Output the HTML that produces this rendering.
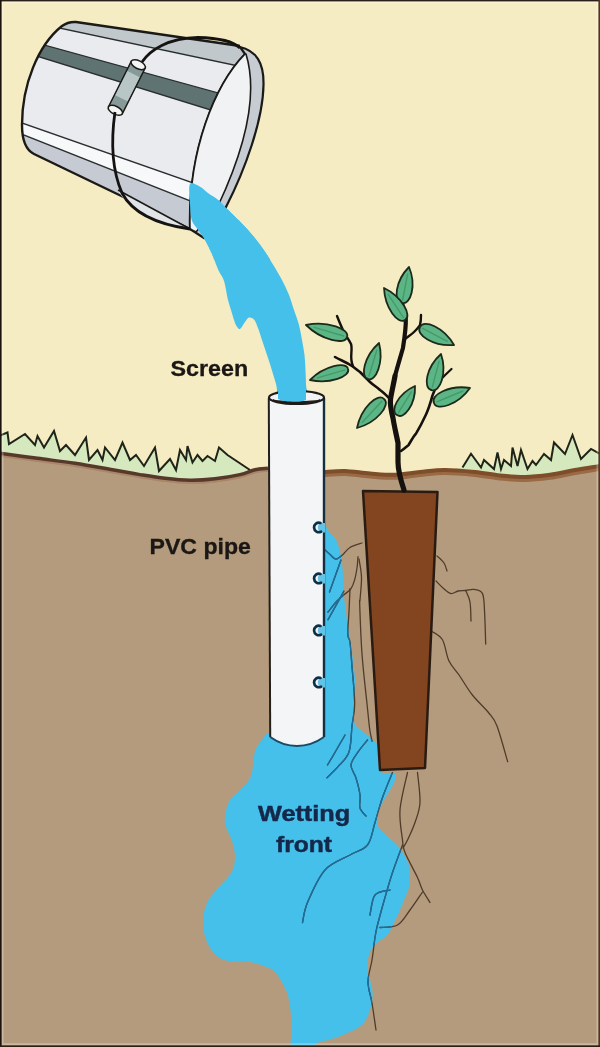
<!DOCTYPE html>
<html><head><meta charset="utf-8">
<style>
html,body{margin:0;padding:0;background:#2A1F18;}
body{width:600px;height:1047px;overflow:hidden;}
svg{display:block;filter:blur(0.45px);}
text{font-family:"Liberation Sans",sans-serif;font-weight:bold;}
</style></head>
<body>
<svg width="600" height="1047" viewBox="0 0 600 1047">
<defs>
<clipPath id="bodyclip"><path d="M76,22 L240,46 L256,60 L202,238 L190,229 L34,154 C26,150 22,140 22,125 C22,85 38,45 62,26 Q68,21.5 76,22 Z"/></clipPath>
<clipPath id="blobclip"><path id="blobp" d="M269.0,733.0 C265.8,733.2 261.4,740.7 259.0,744.0 C256.6,747.3 255.9,747.7 254.6,753.0 C253.3,758.3 253.3,769.9 251.0,776.0 C248.7,782.1 244.4,785.4 240.8,789.6 C237.2,793.8 232.1,795.6 229.4,801.0 C226.7,806.4 224.4,815.2 224.8,821.7 C225.2,828.2 230.0,834.3 231.7,840.0 C233.4,845.7 235.0,850.7 235.0,856.0 C235.0,861.3 234.5,866.7 231.7,872.0 C228.9,877.3 221.8,883.4 218.0,888.0 C214.2,892.6 211.1,895.4 208.8,899.6 C206.5,903.8 204.8,907.6 204.0,913.0 C203.2,918.4 203.2,926.3 204.0,931.7 C204.8,937.1 206.5,941.3 208.8,945.5 C211.1,949.7 214.2,954.3 218.0,957.0 C221.8,959.7 226.8,960.8 231.7,961.5 C236.6,962.2 242.3,960.8 247.7,961.5 C253.0,962.2 259.2,964.2 263.8,966.0 C268.4,967.8 271.5,968.3 275.0,972.0 C278.5,975.7 282.7,983.3 285.0,988.0 C287.3,992.7 288.0,995.5 289.0,1000.0 C290.0,1004.5 290.5,1010.0 291.0,1015.0 C291.5,1020.0 291.8,1024.7 292.0,1030.0 C292.2,1035.3 288.7,1044.2 292.0,1047.0 C295.3,1049.8 307.8,1047.7 312.0,1047.0 C316.2,1046.3 313.2,1044.5 317.0,1043.0 C320.8,1041.5 329.2,1040.0 335.0,1038.0 C340.8,1036.0 347.0,1033.3 351.7,1031.0 C356.4,1028.7 359.9,1027.5 363.0,1024.0 C366.1,1020.5 368.4,1015.0 370.0,1010.0 C371.6,1005.0 372.7,999.0 372.7,994.0 C372.7,989.0 370.9,984.3 370.0,980.0 C369.1,975.7 367.0,972.7 367.0,968.0 C367.0,963.3 368.2,956.3 370.0,952.0 C371.8,947.7 375.2,944.7 378.0,942.0 C380.8,939.3 384.4,938.5 386.7,936.0 C389.0,933.5 390.0,930.8 392.0,927.0 C394.0,923.2 396.7,917.5 398.7,913.0 C400.7,908.5 402.3,904.3 404.0,900.0 C405.7,895.7 408.0,891.7 409.0,887.0 C410.0,882.3 410.2,876.2 410.0,872.0 C409.8,867.8 408.7,865.2 407.5,862.0 C406.3,858.8 404.8,855.8 403.0,853.0 C401.2,850.2 399.5,847.7 397.0,845.0 C394.5,842.3 391.0,839.8 388.0,837.0 C385.0,834.2 380.8,830.8 379.0,828.0 C377.2,825.2 377.0,823.0 377.0,820.0 C377.0,817.0 377.8,813.3 379.0,810.0 C380.2,806.7 382.2,803.3 384.0,800.0 C385.8,796.7 388.2,793.3 390.0,790.0 C391.8,786.7 394.3,782.8 395.0,780.0 C395.7,777.2 396.5,774.5 394.0,773.0 C391.5,771.5 382.7,775.3 380.0,771.0 C377.3,766.7 379.2,752.2 378.0,747.0 C376.8,741.8 374.9,742.3 372.7,740.0 C370.5,737.7 367.4,735.2 364.7,733.0 C362.0,730.8 358.5,728.9 356.7,726.7 C354.9,724.5 354.4,724.5 354.0,720.0 C353.6,715.5 353.8,706.7 354.0,700.0 C354.2,693.3 355.2,687.1 355.0,680.0 C354.8,672.9 353.9,667.1 352.7,657.6 C351.4,648.1 348.9,633.1 347.5,623.0 C346.1,612.9 344.9,607.0 344.0,597.0 C343.1,587.0 343.2,572.2 342.0,563.0 C340.8,553.8 339.0,547.0 337.0,542.0 C335.0,537.0 332.3,535.8 330.0,533.0 C327.7,530.2 324.7,523.0 323.0,525.0 C321.3,527.0 320.5,524.2 320.0,545.0 C319.5,565.8 320.0,619.2 320.0,650.0 C320.0,680.8 323.3,713.5 320.0,730.0 C316.7,746.5 307.0,746.8 300.0,749.0 C293.0,751.2 283.2,745.7 278.0,743.0 C272.8,740.3 272.2,732.8 269.0,733.0Z"/></clipPath>
</defs>
<!-- sky -->
<rect x="0" y="0" width="600" height="1047" fill="#F6ECC3"/>
<!-- grass fills -->
<path d="M0,436 L1,435 L7.5,432.5 L9,444 L25,434 L35,445 L37.5,436 L44,447.5 L54,431 L60,451 L66,445 L75,455 L86,437.5 L89,460 L97.5,450 L102.5,460 L105,447.5 L115,460 L122.5,442.5 L130,460 L136,455 L144,466 L155,447.5 L159,471 L170,459 L176,470 L180,450 L186,460 L187.5,446 L192.5,462.5 L197.5,455 L202.5,461 L207.5,456 L215,461 L219,447.5 L227.5,455 L250,470 L260,475 L260,500 L0,500 Z" fill="#D6E8BD"/>
<path d="M462.5,467.5 L471,453.75 L481,467.5 L484,460 L494,469 L497.5,452.5 L501,469 L504,460 L511,466 L512.5,447.5 L517.5,466 L521,450 L527.5,469 L532.5,461 L536,465 L544,454 L551,460 L554,442.5 L565,454 L572.5,435 L581,459 L591,449 L600,454 L600,500 L455,500 L455,470 Z" fill="#D6E8BD"/>
<!-- soil -->
<path d="M0.0,452.5 C6.2,453.3 25.0,455.8 37.5,457.5 C50.0,459.2 62.5,460.6 75.0,462.5 C87.5,464.4 101.7,467.1 112.5,469.0 C123.3,470.9 131.2,472.3 140.0,473.8 C148.8,475.2 156.7,476.5 165.0,477.5 C173.3,478.5 181.7,479.4 190.0,479.5 C198.3,479.6 206.7,479.0 215.0,478.0 C223.3,477.0 233.3,475.2 240.0,473.8 C246.7,472.2 250.3,470.0 255.0,469.0 C259.7,468.0 256.3,467.2 268.0,467.5 C279.7,467.8 312.2,470.6 325.0,471.0 C337.8,471.4 337.5,469.8 345.0,470.0 C352.5,470.2 361.7,471.9 370.0,472.5 C378.3,473.1 386.7,474.0 395.0,473.8 C403.3,473.5 411.7,471.8 420.0,471.0 C428.3,470.2 435.8,469.0 445.0,469.0 C454.2,469.0 465.8,470.1 475.0,471.0 C484.2,471.9 491.7,473.7 500.0,474.5 C508.3,475.3 516.7,476.1 525.0,476.0 C533.3,475.9 541.7,474.9 550.0,473.8 C558.3,472.6 566.7,470.5 575.0,469.0 C583.3,467.5 595.8,465.7 600.0,465.0 L600,1047 L0,1047 Z" fill="#B49B7D"/>
<!-- grass lines -->
<path d="M0,436 L1,435 L7.5,432.5 L9,444 L25,434 L35,445 L37.5,436 L44,447.5 L54,431 L60,451 L66,445 L75,455 L86,437.5 L89,460 L97.5,450 L102.5,460 L105,447.5 L115,460 L122.5,442.5 L130,460 L136,455 L144,466 L155,447.5 L159,471 L170,459 L176,470 L180,450 L186,460 L187.5,446 L192.5,462.5 L197.5,455 L202.5,461 L207.5,456 L215,461 L219,447.5 L227.5,455 L250,470" fill="none" stroke="#1F2419" stroke-width="2"/>
<path d="M462.5,467.5 L471,453.75 L481,467.5 L484,460 L494,469 L497.5,452.5 L501,469 L504,460 L511,466 L512.5,447.5 L517.5,466 L521,450 L527.5,469 L532.5,461 L536,465 L544,454 L551,460 L554,442.5 L565,454 L572.5,435 L581,459 L591,449 L600,454" fill="none" stroke="#1F2419" stroke-width="2"/>
<!-- ground line -->
<path d="M0.0,455.0 C6.2,455.8 25.0,458.3 37.5,460.0 C50.0,461.7 62.5,463.1 75.0,465.0 C87.5,466.9 101.7,469.6 112.5,471.5 C123.3,473.4 131.2,474.8 140.0,476.2 C148.8,477.7 156.7,479.0 165.0,480.0 C173.3,481.0 181.7,481.9 190.0,482.0 C198.3,482.1 206.7,481.5 215.0,480.5 C223.3,479.5 233.3,477.8 240.0,476.2 C246.7,474.8 250.3,472.5 255.0,471.5 C259.7,470.5 265.8,470.2 268.0,470.0" fill="none" stroke="#A07858" stroke-width="4" opacity="0.6"/>
<path d="M325.0,474.0 C328.3,473.8 337.5,472.8 345.0,473.0 C352.5,473.2 361.7,474.9 370.0,475.5 C378.3,476.1 386.7,477.0 395.0,476.8 C403.3,476.5 411.7,474.8 420.0,474.0 C428.3,473.2 435.8,472.0 445.0,472.0 C454.2,472.0 465.8,473.1 475.0,474.0 C484.2,474.9 491.7,476.7 500.0,477.5 C508.3,478.3 516.7,479.1 525.0,479.0 C533.3,478.9 541.7,477.9 550.0,476.8 C558.3,475.6 566.7,473.5 575.0,472.0 C583.3,470.5 595.8,468.7 600.0,468.0" fill="none" stroke="#9A6A45" stroke-width="6"/>
<path d="M0.0,453.3 C6.2,454.1 25.0,456.6 37.5,458.3 C50.0,460.0 62.5,461.4 75.0,463.3 C87.5,465.2 101.7,467.9 112.5,469.8 C123.3,471.7 131.2,473.1 140.0,474.6 C148.8,476.0 156.7,477.3 165.0,478.3 C173.3,479.3 181.7,480.2 190.0,480.3 C198.3,480.4 206.7,479.8 215.0,478.8 C223.3,477.8 233.3,476.1 240.0,474.6 C246.7,473.1 250.3,470.8 255.0,469.8 C259.7,468.8 265.8,468.6 268.0,468.3" fill="none" stroke="#56392A" stroke-width="3.5"/>
<path d="M325.0,472.0 C328.3,471.8 337.5,470.8 345.0,471.0 C352.5,471.2 361.7,472.9 370.0,473.5 C378.3,474.1 386.7,475.0 395.0,474.8 C403.3,474.5 411.7,472.8 420.0,472.0 C428.3,471.2 435.8,470.0 445.0,470.0 C454.2,470.0 465.8,471.1 475.0,472.0 C484.2,472.9 491.7,474.7 500.0,475.5 C508.3,476.3 516.7,477.1 525.0,477.0 C533.3,476.9 541.7,475.9 550.0,474.8 C558.3,473.6 566.7,471.5 575.0,470.0 C583.3,468.5 595.8,466.7 600.0,466.0" fill="none" stroke="#7E4D2A" stroke-width="4"/>

<!-- water blob -->
<use href="#blobp" fill="#45C0EB"/>
<ellipse cx="297" cy="742" rx="30" ry="10" fill="#45C0EB"/>
<!-- roots in soil -->
<g fill="none" stroke="#4E3C2B" stroke-width="1.3" stroke-linecap="round" stroke-linejoin="round">
<g id="rootsg"><path d="M437.0,556.0 C438.2,557.2 442.3,560.5 444.0,563.0 C445.7,565.5 446.5,569.7 447.0,571.0"/>
<path d="M436.0,581.0 C437.2,582.2 440.5,585.9 443.0,588.0 C445.5,590.1 448.5,593.1 451.0,593.6 C453.5,594.1 455.6,591.5 458.0,591.0 C460.4,590.5 463.0,590.8 465.7,590.5 C468.4,590.2 471.2,588.9 474.0,589.4 C476.8,589.9 480.7,589.8 482.5,593.6 C484.3,597.5 484.1,604.1 484.6,612.5 C485.1,620.9 485.5,638.8 485.7,644.0"/>
<path d="M465.7,590.5 C466.4,592.4 469.1,596.9 470.0,602.0 C470.9,607.1 470.8,617.8 471.0,621.0"/>
<path d="M432.0,631.4 C433.8,632.8 439.8,635.1 442.6,640.0 C445.4,644.9 446.2,655.1 449.0,661.0 C451.8,666.9 455.6,669.9 459.4,675.5 C463.2,681.1 467.1,688.2 472.0,694.5 C476.9,700.8 484.6,707.8 488.8,713.0 C493.0,718.2 493.9,717.9 497.0,726.0 C500.1,734.1 505.9,755.8 507.7,761.7"/>
<path d="M362.0,543.0 C360.0,543.8 353.2,545.6 350.0,547.5 C346.8,549.4 345.3,552.5 343.0,554.4 C340.7,556.3 338.2,559.1 336.0,559.0 C333.8,558.9 331.7,555.8 329.5,554.0 C327.3,552.2 324.1,549.0 323.0,548.0"/>
<path d="M358.0,556.7 C357.8,558.6 357.6,564.2 357.0,568.0 C356.4,571.8 355.7,576.1 354.7,579.6 C353.7,583.1 352.7,586.2 351.0,588.7 C349.3,591.2 346.6,592.5 344.3,594.5 C342.0,596.5 339.7,598.1 337.0,601.0 C334.3,603.9 329.5,610.2 328.0,612.0"/>
<path d="M350.0,588.7 C349.8,592.5 349.4,604.0 349.0,611.6 C348.6,619.2 347.6,629.4 347.8,634.5 C348.0,639.6 349.3,636.7 350.0,642.0 C350.7,647.3 351.2,656.2 352.0,666.5 C352.8,676.8 354.7,693.8 354.7,703.7 C354.7,713.6 352.9,718.0 352.0,726.0 C351.1,734.0 351.3,745.2 349.0,752.0 C346.7,758.8 341.7,762.4 338.0,766.7 C334.3,771.0 328.8,775.9 327.0,777.7"/>
<path d="M359.0,559.0 C359.4,562.0 361.3,570.2 361.5,577.0 C361.7,583.8 360.3,595.4 360.0,600.0 C359.7,604.6 359.4,595.4 359.7,604.4 C360.0,613.4 360.8,637.5 362.0,654.0 C363.2,670.5 365.7,691.3 367.0,703.7 C368.3,716.1 368.8,722.3 369.6,728.5 C370.4,734.7 371.6,738.9 372.0,741.0"/>
<path d="M341.0,560.0 C339.1,565.3 331.4,586.7 329.5,592.0"/>
<path d="M344.0,591.0 C341.3,595.8 330.7,614.9 328.0,619.7"/>
<path d="M367.5,740.0 C365.9,742.0 360.8,747.8 358.0,752.0 C355.2,756.2 351.3,760.7 351.0,765.0 C350.7,769.3 354.5,773.0 356.0,778.0 C357.5,783.0 359.3,790.0 360.0,795.0 C360.7,800.0 359.0,804.5 360.0,808.0 C361.0,811.5 365.0,814.7 366.0,816.0"/>
<path d="M392.5,772.5 C390.8,776.7 385.4,789.2 382.5,797.5 C379.6,805.8 377.5,814.6 375.0,822.5 C372.5,830.4 371.7,839.6 367.5,845.0 C363.3,850.4 357.1,850.8 350.0,855.0 C342.9,859.2 332.1,862.1 325.0,870.0 C317.9,877.9 311.2,893.8 307.5,902.5 C303.8,911.2 303.3,919.2 302.5,922.5"/>
<path d="M402.5,845.0 C400.8,849.6 395.4,863.8 392.5,872.5 C389.6,881.2 387.5,888.8 385.0,897.5 C382.5,906.2 379.2,918.3 377.5,925.0 C375.8,931.7 375.9,931.7 375.0,937.5 C374.1,943.3 373.2,952.6 372.0,960.0 C370.8,967.4 368.0,974.8 368.0,982.0 C368.0,989.2 370.7,995.0 372.0,1003.0 C373.3,1011.0 375.3,1025.5 376.0,1030.0"/>
<path d="M390.0,890.0 C387.5,890.8 378.3,890.8 375.0,895.0 C371.7,899.2 370.8,911.7 370.0,915.0"/>
<path d="M345.0,735.0 C343.8,737.2 340.4,743.0 337.5,748.0 C334.6,753.0 329.2,762.2 327.5,765.0"/>
<path d="M407.5,772.5 C406.2,778.8 400.8,798.8 400.0,810.0 C399.2,821.2 401.7,832.9 402.5,840.0 C403.3,847.1 402.5,846.2 405.0,852.5 C407.5,858.8 414.6,871.2 417.5,877.5 C420.4,883.8 420.4,885.8 422.5,890.0 C424.6,894.2 428.8,900.4 430.0,902.5"/>
<path d="M417.5,772.5 C417.9,777.5 420.4,794.2 420.0,802.5 C419.6,810.8 417.1,816.2 415.0,822.5 C412.9,828.8 409.5,835.8 407.5,840.0 C405.5,844.2 403.8,846.7 403.0,848.0"/>
<path d="M422.5,892.0 C420.4,895.0 414.2,904.5 410.0,910.0 C405.8,915.5 402.5,922.1 397.5,925.0 C392.5,927.9 382.9,927.1 380.0,927.5"/></g>
</g>
<g clip-path="url(#blobclip)" fill="none" stroke="#1C6E9E" stroke-width="1.4" stroke-linecap="round" stroke-linejoin="round">
<use href="#rootsg"/>
</g>

<!-- pot -->
<path d="M363,491 L437.5,492 L425,768 L380,770 Z" fill="#82451F" stroke="#2A1B12" stroke-width="2.5" stroke-linejoin="round"/>

<!-- plant stems -->
<g fill="none" stroke="#15110E" stroke-linecap="round" stroke-linejoin="round">
<path d="M404,490 C401,481 398,470 398,462 C398,455 398,450 398,443 C396,433 394,425 393,418 C391,410 390,404 390.5,399 C392,390 394,382 395,376" stroke-width="5.2"/>
<path d="M395,376 C398,365 401,355 403,347.7 C405,335 406,325 405.8,319 C405,312 403,308 402,303" stroke-width="4.2"/>
<path d="M389,398 C386,395 383,392 380,390 C377,387 373,385 370,382 C366,378 363,375 360,372 C357,370 355,368 352,366 C346,362 340,360 335,357" stroke-width="2.6"/>
<path d="M353,366 C349,358 353,350 351,344 C349,340 346,336 343,330 C341,326 339,321 337,316" stroke-width="2.4"/>
<path d="M401,451 C404,449 406,447 408.6,445 C411,441 413,437 416,433.6 C420,427 423,421 426,414.5 C429,408 431,401 432.5,395.4 C434,392 435,389 436,386" stroke-width="2.6"/>
<path d="M431.5,390 C437,383 445,375 451.5,369" stroke-width="2.2"/>
<path d="M404,340 C407,337 411,335 414,332 C417,329 419,327 420,325 C421,321 421,318 421,315" stroke-width="2.4"/>
</g>
<!-- leaves -->
<g fill="#5CB584" stroke="#1C2A1C" stroke-width="1.8" stroke-linejoin="round">
<path d="M402.0,303.0 C410.6,305.4 416.7,285.3 409.0,267.0 C395.0,281.1 393.1,302.0 402.0,303.0Z"/>
<path d="M405.0,320.0 C412.4,316.0 402.1,296.7 384.0,288.0 C384.8,308.1 398.4,325.2 405.0,320.0Z"/>
<path d="M420.0,327.0 C415.1,334.5 433.5,346.7 454.0,345.0 C443.9,327.1 423.5,318.8 420.0,327.0Z"/>
<path d="M347.0,337.0 C350.2,329.2 327.4,320.4 306.0,325.0 C321.5,340.4 345.5,345.3 347.0,337.0Z"/>
<path d="M348.0,369.0 C346.6,361.2 324.4,365.7 310.0,380.0 C329.8,384.4 350.9,376.3 348.0,369.0Z"/>
<path d="M368.0,379.0 C375.8,382.2 384.0,362.2 379.0,343.0 C364.1,356.2 359.7,377.3 368.0,379.0Z"/>
<path d="M384.0,399.0 C378.0,392.3 361.1,407.4 357.0,428.0 C377.2,422.5 391.1,404.5 384.0,399.0Z"/>
<path d="M397.0,415.0 C403.8,420.0 415.7,404.5 415.0,386.0 C398.1,393.6 389.5,411.2 397.0,415.0Z"/>
<path d="M431.5,390.0 C439.9,393.0 447.4,373.0 441.0,354.0 C426.0,367.4 422.7,388.4 431.5,390.0Z"/>
<path d="M434.0,403.0 C436.7,411.5 458.1,404.9 470.0,388.0 C449.6,384.6 429.8,395.1 434.0,403.0Z"/>
</g>
<g fill="none" stroke="#3E9465" stroke-width="1.4" stroke-linecap="round" opacity="0.8">
<path d="M402.6,300.1 L407.6,274.2"/>
<path d="M403.3,317.4 L388.2,294.4"/>
<path d="M422.7,328.4 L447.2,341.4"/>
<path d="M343.7,336.0 L314.2,327.4"/>
<path d="M345.0,369.9 L317.6,377.8"/>
<path d="M368.9,376.1 L376.8,350.2"/>
<path d="M381.8,401.3 L362.4,422.2"/>
<path d="M398.4,412.7 L411.4,391.8"/>
<path d="M432.3,387.1 L439.1,361.2"/>
<path d="M436.9,401.8 L462.8,391.0"/>
</g>

<!-- water stream -->
<path id="streamp" d="M190.0,184.0 C191.7,181.2 196.9,185.1 200.0,186.7 C203.1,188.2 205.2,191.1 208.3,193.3 C211.4,195.5 215.5,197.8 218.3,200.0 C221.1,202.2 222.5,204.2 225.0,206.7 C227.5,209.2 230.0,211.7 233.3,215.0 C236.6,218.3 241.4,222.8 245.0,226.7 C248.6,230.6 251.7,234.1 255.0,238.3 C258.3,242.5 261.9,247.2 265.0,251.7 C268.1,256.1 270.5,260.3 273.3,265.0 C276.1,269.7 279.4,275.0 282.0,280.0 C284.6,285.0 287.0,290.0 289.0,295.0 C291.0,300.0 292.3,305.0 294.0,310.0 C295.7,315.0 297.7,320.0 299.0,325.0 C300.3,330.0 301.1,335.0 302.0,340.0 C302.9,345.0 303.9,350.0 304.5,355.0 C305.1,360.0 305.2,365.0 305.5,370.0 C305.8,375.0 305.9,380.0 306.0,385.0 C306.1,390.0 310.7,397.5 306.0,400.0 C301.3,402.5 282.8,401.7 278.0,400.0 C273.2,398.3 277.3,392.7 277.0,390.0 C276.7,387.3 276.7,386.7 276.0,384.0 C275.3,381.3 274.0,377.3 273.0,374.0 C272.0,370.7 271.2,367.7 270.0,364.0 C268.8,360.3 267.3,356.0 266.0,352.0 C264.7,348.0 263.3,344.0 262.0,340.0 C260.7,336.0 259.3,331.4 258.0,328.0 C256.7,324.6 255.5,321.2 254.0,319.5 C252.5,317.8 250.5,317.1 249.0,317.5 C247.5,317.9 246.5,320.1 245.0,322.0 C243.5,323.9 241.4,328.3 240.0,329.0 C238.6,329.7 237.5,327.5 236.5,326.0 C235.5,324.5 234.9,322.7 234.0,320.0 C233.1,317.3 232.0,313.3 231.0,310.0 C230.0,306.7 229.2,304.8 228.0,300.0 C226.8,295.2 225.6,286.0 224.0,281.0 C222.4,276.0 220.4,274.6 218.3,270.0 C216.2,265.4 213.9,258.3 211.7,253.3 C209.5,248.3 207.2,243.9 205.0,240.0 C202.8,236.1 200.5,233.3 198.3,230.0 C196.1,226.7 193.1,224.4 191.7,220.0 C190.3,215.6 190.3,209.3 190.0,203.3 C189.7,197.3 188.3,186.8 190.0,184.0Z" fill="#45C0EB"/>

<!-- pipe -->
<path d="M268.8,398 L270.2,737 C280,744 290,746 297,746 C305,746 314,744 324,737 L324,398 Z" fill="#F4F5F6"/>
<path d="M268.8,398 L270.2,737" stroke="#231F1C" stroke-width="2"/>
<path d="M324,398 L324,737" stroke="#14303F" stroke-width="2.4"/>
<path d="M270.2,737 C280,744 290,746 297,746 C305,746 314,744 324,737" fill="none" stroke="#1B4A66" stroke-width="2"/>
<!-- pipe top -->
<ellipse cx="296.5" cy="397.5" rx="27.5" ry="6.5" fill="#F2F3F4" stroke="#1E1B19" stroke-width="2.2"/>
<path d="M273,400 C282,405 312,405 320,400 C312,402 282,402 273,400 Z" fill="#1E1B19" stroke="#1E1B19" stroke-width="1.2"/>
<path d="M278,399 C283,402 302,403 306,400 L306,390 L278,390 Z" fill="#45C0EB"/>
<!-- holes -->
<path d="M321,523.0 C317,523.5 316.5,530.5 321,532.5 L325,532.5 L325,523.0 Z" fill="#62C3E6"/>
<path d="M321,574.0 C317,574.5 316.5,581.5 321,583.5 L325,583.5 L325,574.0 Z" fill="#62C3E6"/>
<path d="M321,626.0 C317,626.5 316.5,633.5 321,635.5 L325,635.5 L325,626.0 Z" fill="#62C3E6"/>
<path d="M321,678.0 C317,678.5 316.5,685.5 321,687.5 L325,687.5 L325,678.0 Z" fill="#62C3E6"/>
<g fill="none" stroke="#0E2F45" stroke-width="2.7" stroke-linecap="round">
<path d="M320.5,522.9 A4.8,4.8 0 1 0 321,531.7"/>
<path d="M320.5,573.9 A4.8,4.8 0 1 0 321,582.7"/>
<path d="M320.5,625.9 A4.8,4.8 0 1 0 321,634.7"/>
<path d="M320.5,677.9 A4.8,4.8 0 1 0 321,686.7"/>
</g>

<!-- bucket -->
<g clip-path="url(#bodyclip)">
<rect x="0" y="0" width="280" height="250" fill="#E9EBEE"/>
<path d="M0,0 L280,0 L280,74.9 L0,15.4 Z" fill="#C0C8CB"/>
<path d="M0,32.8 L280,110 L280,131.4 L0,44.6 Z" fill="#5F7472"/>
<path d="M0,115.3 L280,213.5 L280,236.4 L0,125.5 Z" fill="#F7F8F9"/>
<path d="M0,125.5 L280,236.4 L280,260 L0,260 Z" fill="#C6CBD3"/>
<g stroke="#2A2D2E" stroke-width="1.4" fill="none">
<path d="M0,15.4 L280,74.9"/>
<path d="M0,32.8 L280,110"/>
<path d="M0,44.6 L280,131.4"/>
<path d="M0,115.3 L280,213.5"/>
<path d="M0,125.5 L280,236.4"/>
</g>
</g>
<path d="M240,46 L76,22 Q68,21.5 62,26 C38,45 22,85 22,125 C22,140 26,150 34,154 L190,229" fill="none" stroke="#1C1A18" stroke-width="2.4"/>
<!-- mouth -->
<path d="M240,47 C256,51 264,62 263.5,85 C263,120 245,170 226,207 L204,238 L190,229 C188,150 215,85 245,54 Z" fill="#C7CCD2" stroke="#1C1A18" stroke-width="2.2" stroke-linejoin="round"/>
<path d="M246,54 C257,90 248,142 218,206 L196,232 L190,229 C188,150 215,85 245,54 Z" fill="#F1F2F4" stroke="#1C1A18" stroke-width="1.6" stroke-linejoin="round"/>
<!-- grip -->
<g transform="translate(126.8,87.5) rotate(26.6)">
<rect x="-7.75" y="-25.5" width="15.5" height="51" fill="#869A99" stroke="#1C1A18" stroke-width="1.5"/>
<rect x="-6.8" y="-15" width="13.6" height="27" fill="#B8C7C6"/>
<ellipse cx="0" cy="-25.5" rx="7.75" ry="4" fill="#F4F5F5" stroke="#1C1A18" stroke-width="1.5"/>
<ellipse cx="0" cy="25.5" rx="7.75" ry="4" fill="#F4F5F5" stroke="#1C1A18" stroke-width="1.5"/>
</g>
<!-- bottom lip -->
<path d="M118,190 C128,210 155,224 192,230 L118,190 Z" fill="#E2E5E8"/>
<path d="M118,190 L192,230" stroke="#1C1A18" stroke-width="1.6"/>
<!-- handle wire -->
<path d="M142,62 C150,50 168,38 198,37.5 C220,38 234,42 240,48" fill="none" stroke="#151312" stroke-width="2.8"/>
<path d="M115,112 C111,140 112,170 122,193 C132,212 155,224 190,229" fill="none" stroke="#151312" stroke-width="2.8"/>
<!-- stream over mouth bottom -->
<clipPath id="topclip"><rect x="150" y="150" width="150" height="110"/></clipPath>
<use href="#streamp" clip-path="url(#topclip)"/>

<!-- labels -->
<text x="170.5" y="376" font-size="22" fill="#1B1714" stroke="#1B1714" stroke-width="0.3" transform="translate(170.5,0) scale(1.06,1) translate(-170.5,0)">Screen</text>
<text x="149.5" y="554" font-size="22" fill="#1B1714" stroke="#1B1714" stroke-width="0.3" transform="translate(149.5,0) scale(1.05,1) translate(-149.5,0)">PVC pipe</text>
<text x="258" y="821" font-size="22" fill="#15284A" stroke="#15284A" stroke-width="0.5" transform="translate(258,0) scale(1.15,1) translate(-258,0)">Wetting</text>
<text x="276" y="852" font-size="22" fill="#15284A" stroke="#15284A" stroke-width="0.5" transform="translate(276,0) scale(1.12,1) translate(-276,0)">front</text>

<!-- frame -->
<rect x="2.5" y="2.2" width="595" height="1042" fill="none" stroke="#FFFFFF" stroke-opacity="0.28" stroke-width="2"/>
<rect x="0" y="0" width="600" height="1.4" fill="#2A1F18"/>
<rect x="0" y="0" width="1.6" height="1047" fill="#1E120C"/>
<rect x="598.4" y="0" width="1.6" height="1047" fill="#4E3622"/>
<rect x="0" y="1045.4" width="600" height="1.6" fill="#2E1E12"/>
</svg>
</body></html>
